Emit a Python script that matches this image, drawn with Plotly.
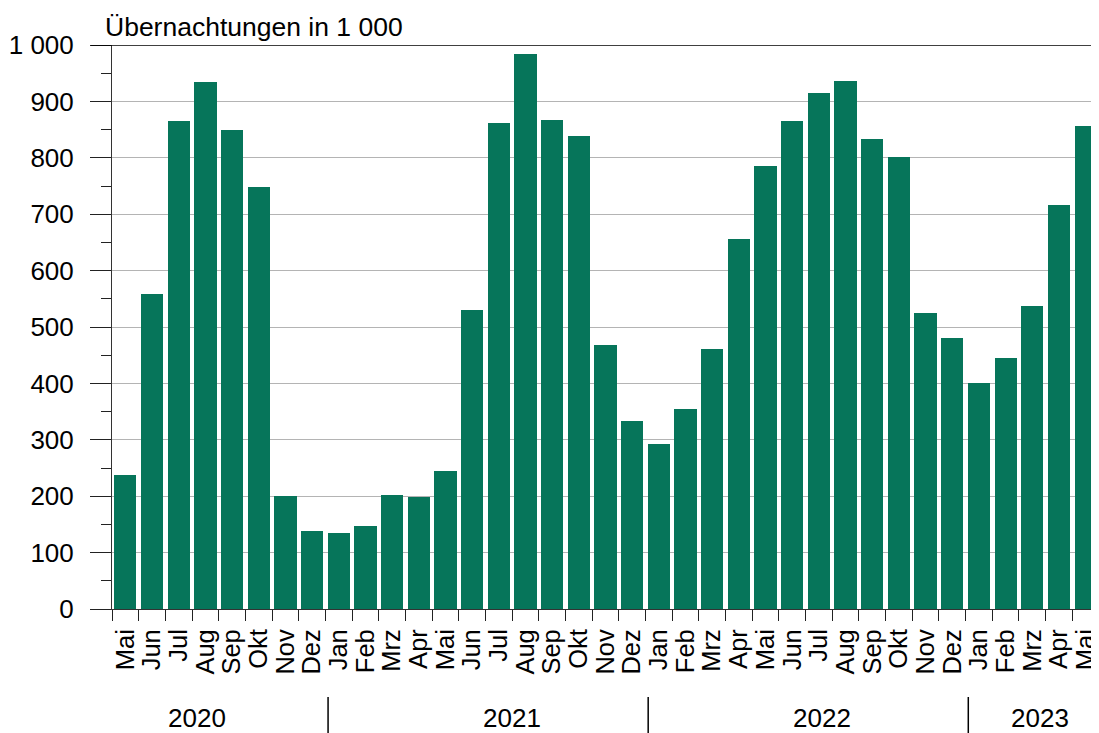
import plotly.graph_objects as go

months = ["Mai", "Jun", "Jul", "Aug", "Sep", "Okt", "Nov", "Dez",
          "Jan", "Feb", "Mrz", "Apr", "Mai", "Jun", "Jul", "Aug", "Sep", "Okt", "Nov", "Dez",
          "Jan", "Feb", "Mrz", "Apr", "Mai", "Jun", "Jul", "Aug", "Sep", "Okt", "Nov", "Dez",
          "Jan", "Feb", "Mrz", "Apr", "Mai"]
values = [238, 559, 865, 934, 849, 748, 200, 138,
          135, 147, 202, 199, 245, 530, 862, 984, 867, 839, 468, 333,
          293, 355, 461, 656, 785, 865, 915, 936, 833, 801, 525, 480,
          401, 445, 537, 716, 856]
years = ["2020", "2021", "2022", "2023"]
year_label_pos = [2.69, 14.49, 26.1, 34.3]
year_start_idx = [8, 20, 32]
y_ticks = [0, 100, 200, 300, 400, 500, 600, 700, 800, 900, 1000]
y_ticktext = ["0", "100", "200", "300", "400", "500", "600", "700", "800", "900", "1 000"]
title_text = "Übernachtungen in 1 000"

FONT = "Arial, Liberation Sans, sans-serif"
FS = 26
x = list(range(len(months)))

fig = go.Figure(go.Bar(x=x, y=values, marker=dict(color="#06755A", line=dict(width=0)), width=0.835))

# page body has an 8px margin
W, H = 1091, 725
L, R, T, B = 104, 0, 37, 124
pw = W - L - R
ph = H - T - B
bottom_px = T + ph  # in figure coords

fig.update_layout(
    width=W, height=H,
    margin=dict(l=L, r=R, t=T, b=B),
    plot_bgcolor="white", paper_bgcolor="white",
    font=dict(family=FONT, size=FS, color="black"),
    showlegend=False,
    bargap=0,
)
fig.update_xaxes(
    range=[-0.5, len(months) - 0.5],
    tickmode="array", tickvals=x, ticktext=months, tickangle=-90,
    ticks="", showgrid=False, showline=True, linecolor="#333333", linewidth=1,
    tickfont=dict(size=25.5, family=FONT),
    minor=dict(tick0=-0.5, dtick=1, ticks="outside", ticklen=11, tickcolor="#222222", showgrid=False),
    ticklabelstandoff=9,
)
fig.update_yaxes(
    range=[0, 1000],
    tickmode="array", tickvals=y_ticks, ticktext=y_ticktext,
    ticks="outside", ticklen=21, tickcolor="#222222",
    showgrid=True, gridcolor="#b4b4b4", gridwidth=1,
    showline=True, linecolor="#333333", linewidth=1,
    tickfont=dict(size=FS, family=FONT),
    minor=dict(dtick=50, tick0=0, ticks="outside", ticklen=10, tickcolor="#222222", showgrid=False),
    zeroline=False,
    ticklabelstandoff=11,
)

# top black line at 1000
fig.add_shape(type="line", xref="paper", yref="y", x0=-21 / pw, x1=1, y0=1000, y1=1000,
              line=dict(color="black", width=1.5))

# year separators
for i in year_start_idx:
    fig.add_shape(type="line", xref="x", yref="paper", x0=i - 0.4, x1=i - 0.4,
                  y0=-(689 - bottom_px) / ph, y1=-(725 - bottom_px) / ph,
                  line=dict(color="black", width=1.5))

for yr, pos in zip(years, year_label_pos):
    fig.add_annotation(text=yr, x=pos, xref="x", y=-(710 - bottom_px) / ph, yref="paper",
                       showarrow=False, font=dict(size=FS, family=FONT), xanchor="center", yanchor="middle")

fig.add_annotation(text=title_text, xref="paper", yref="paper", x=-9 / pw, y=1 + 18 / ph,
                   xanchor="left", yanchor="middle", showarrow=False, font=dict(size=26.5, family=FONT))

fig.write_html("out.html")
